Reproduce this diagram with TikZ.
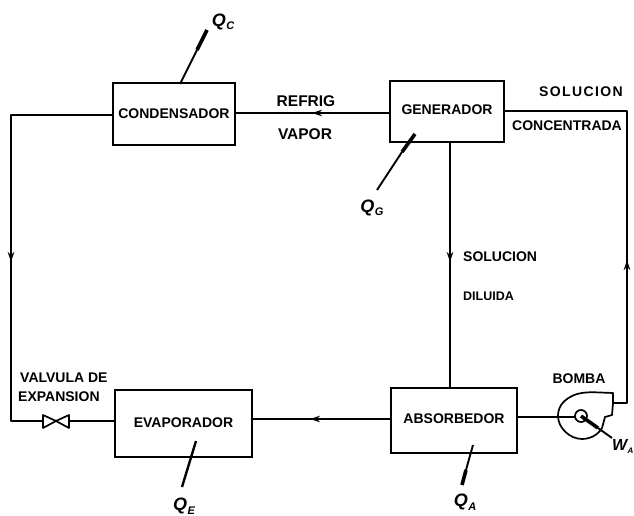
\documentclass[tikz,border=0pt]{standalone}
\usepackage{fontspec}
\setmainfont{Liberation Sans}
\usetikzlibrary{arrows.meta}
\newcommand{\heatq}[2]{#1\kern0.5pt\raisebox{-3.5pt}{\fontsize{11}{12}\selectfont #2}}
\tikzset{
  box/.style={draw,line width=1.7pt,rectangle,inner sep=0pt,font=\fontsize{14}{16}\selectfont\bfseries},
  lbl/.style={inner sep=0pt,font=\fontsize{14}{16}\selectfont\bfseries},
  qlbl/.style={inner sep=0pt,font=\fontsize{18}{19}\selectfont\bfseries\itshape},
  pipe/.style={line width=1.7pt,line join=round},
  heat/.style={line width=1.9pt},
  heatthick/.style={line width=3.6pt},
  tip/.style={-{Stealth[length=10pt,width=6.5pt]}}
}
\begin{document}
\begin{tikzpicture}[x=1pt,y=-1pt]
\useasboundingbox (0,0) rectangle (634,516);
\clip (0,0) rectangle (634,516);
% boxes
\node[box,minimum width=122pt,minimum height=62pt] (cond) at (174,114) {CONDENSADOR};
\node[box,minimum width=114pt,minimum height=61pt] (gen) at (447,111.5) {\raisebox{3pt}{GENERADOR}};
\node[box,minimum width=137pt,minimum height=67pt] (evap) at (183.5,423.5) {\raisebox{2pt}{EVAPORADOR}};
\node[box,minimum width=126pt,minimum height=65pt] (abso) at (454,420.5) {\raisebox{3pt}{ABSORBEDOR}};
% labels
\node[lbl,font=\fontsize{15.5}{17}\selectfont\bfseries] (refrig) at (306,101) {REFRIG};
\node[lbl,font=\fontsize{15.5}{17}\selectfont\bfseries] (vapor) at (305,134) {VAPOR};
\node[lbl] (sol1) at (581,92) {\addfontfeature{LetterSpace=10}SOLUCION};
\node[lbl] (conc) at (567,126) {CONCENTRADA};
\node[lbl,anchor=west] (sol2) at (463,257) {SOLUCION};
\node[lbl,anchor=west,font=\fontsize{12.5}{14}\selectfont\bfseries] (dil) at (463,296) {DILUIDA};
\node[lbl,anchor=west] (valv) at (20,378) {VALVULA DE};
\node[lbl,anchor=west] (expa) at (18,397) {EXPANSION};
\node[lbl] (bomba) at (579,379) {BOMBA};
% heat labels
\node[qlbl] (qc) at (223,22) {\heatq{Q}{C}};
\node[qlbl] (qg) at (372,208) {\heatq{Q}{G}};
\node[qlbl] (qe) at (184,506) {\heatq{Q}{E}};
\node[qlbl] (qa) at (465,502) {\heatq{Q}{A}};
\node[qlbl,anchor=east,font=\fontsize{16}{18}\selectfont\bfseries\itshape] (wa) at (633.5,446) {W\kern0.3pt\raisebox{-3pt}{\fontsize{8}{9}\selectfont A}};
% routing points
\coordinate (c1) at (11,115);
\coordinate (c2) at (11,421);
\coordinate (v1) at (43,421);
\coordinate (vm) at (56,421);
\coordinate (v2) at (69,421);
\coordinate (cl) at (113,115);
\coordinate (el) at (115,421);
\coordinate (cr) at (235,113);
\coordinate (gl) at (390,113);
\coordinate (gr) at (504,111);
\coordinate (r1) at (627,111);
\coordinate (r2) at (627,403);
\coordinate (out) at (613,403);
\coordinate (er) at (252,419);
\coordinate (al) at (391,419);
\coordinate (ar) at (517,417);
\coordinate (pin) at (575,417);
\coordinate (ptop) at (450,142);
\coordinate (pbot) at (450,388);
\coordinate (hub) at (581,416);
% pipes
\draw[pipe] (cl) -- (c1) -- (c2) -- (v1);
\draw[pipe] (v2) -- (el);
\draw[pipe] (cr) -- (gl);
\draw[pipe] (gr) -- (r1) -- (r2) -- (out);
\draw[pipe] (er) -- (al);
\draw[pipe] (ar) -- (pin);
\draw[pipe] (ptop) -- (pbot);
% flow arrows
\coordinate (a1s) at (11,248); \coordinate (a1e) at (11,262);
\draw[pipe,tip] (a1s) -- (a1e);
\coordinate (a2s) at (450,248); \coordinate (a2e) at (450,262);
\draw[pipe,tip] (a2s) -- (a2e);
\coordinate (a3s) at (627,274); \coordinate (a3e) at (627,260);
\draw[pipe,tip] (a3s) -- (a3e);
\coordinate (a4s) at (326,113); \coordinate (a4e) at (312,113);
\draw[pipe,tip] (a4s) -- (a4e);
\coordinate (a5s) at (322,419); \coordinate (a5e) at (310,419);
\draw[pipe,tip] (a5s) -- (a5e);
% valve
\draw[pipe,fill=white] (43,415) -- (vm) -- (43,428) -- cycle;
\draw[pipe,fill=white] (69,415) -- (vm) -- (69,428) -- cycle;
% pump
\draw[pipe] (out) -- (613,393) -- (600,392.5) .. controls (590,392) and (580,392) .. (572,396)
  .. controls (562,401) and (558,408) .. (558,416)
  .. controls (558,428) and (570,439) .. (582,439)
  .. controls (590,439) and (598,435) .. (602,428)
  -- (605,417) -- (612,415) -- (out);
\draw[pipe] (hub) circle (6pt);
% heat lines
\coordinate (hc1) at (180,84); \coordinate (hc2) at (197,50); \coordinate (hc3) at (207,30);
\draw[heat] (hc1) -- (hc2); \draw[heatthick] (hc2) -- (hc3);
\coordinate (hg1) at (415,134); \coordinate (hg2) at (402,152); \coordinate (hg3) at (377,190);
\draw[heatthick] (hg1) -- (hg2); \draw[heat] (hg2) -- (hg3);
\coordinate (he1) at (196,441); \coordinate (he3) at (182,487);
\draw[line width=2.4pt] (he1) -- (he3);
\coordinate (ha1) at (473,445); \coordinate (ha2) at (466,470); \coordinate (ha3) at (462,485);
\draw[heat] (ha1) -- (ha2); \draw[heatthick] (ha2) -- (ha3);
\coordinate (hw2) at (598,428); \coordinate (hw3) at (612,438);
\draw[heatthick] (hub) -- (hw2); \draw[heat] (hw2) -- (hw3);
\end{tikzpicture}
\end{document}
